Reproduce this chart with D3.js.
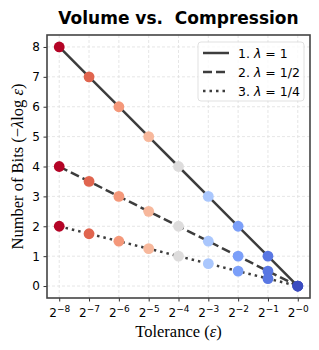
<!DOCTYPE html>
<html lang="en">
<head>
<meta charset="utf-8">
<title>Volume vs. Compression</title>
<script src="https://d3js.org/d3.v7.min.js"></script>
<style>
  body { margin: 0; background: #fff; }
  .tick text { font-family: "DejaVu Sans"; font-size: 12px; fill: #000; }
  .grid line { stroke: #e0e0e0; stroke-dasharray: 3,2; stroke-width: 0.8; }
</style>
</head>
<body>
<div id="chart"></div>
<script>
// data
const exponents = [-8, -7, -6, -5, -4, -3, -2, -1, 0];
const bitsL1 = [8, 7, 6, 5, 4, 3, 2, 1, 0];
const bitsL2 = [4, 3.5, 3, 2.5, 2, 1.5, 1, 0.5, 0];
const bitsL4 = [2, 1.75, 1.5, 1.25, 1, 0.75, 0.5, 0.25, 0];
const seriesNames = ["1. λ = 1", "2. λ = 1/2", "3. λ = 1/4"];
const yTicks = [0, 1, 2, 3, 4, 5, 6, 7, 8];

const width = 319, height = 350;
const marginLeft = 47, marginRight = 9, marginTop = 35, marginBottom = 52;

const svg = d3.select("#chart").append("svg")
  .attr("width", width).attr("height", height);

const x = d3.scaleLinear()
  .domain([-0.41, exponents.length - 1 + 0.41])
  .range([marginLeft, width - marginRight]);
const y = d3.scaleLinear()
  .domain([-0.4, 8.4])
  .range([height - marginBottom, marginTop]);

// coolwarm (reversed) from index
const coolwarm = d3.scaleLinear()
  .domain([0, 0.125, 0.25, 0.375, 0.5, 0.625, 0.75, 0.875, 1])
  .range(["#3b4cc0", "#5977e3", "#7b9ff9", "#aac7fd", "#dddcdc", "#f7b89c", "#f4987a", "#e0654f", "#b40426"]);
const color = i => coolwarm(1 - i / (exponents.length - 1));

// grid
svg.append("g").attr("class", "grid")
  .selectAll("line.v").data(exponents).enter().append("line")
  .attr("x1", (d, i) => x(i)).attr("x2", (d, i) => x(i))
  .attr("y1", marginTop).attr("y2", height - marginBottom);
svg.append("g").attr("class", "grid")
  .selectAll("line.h").data(yTicks).enter().append("line")
  .attr("y1", d => y(d)).attr("y2", d => y(d))
  .attr("x1", marginLeft).attr("x2", width - marginRight);

// axes
const yAxis = d3.axisLeft(y).tickValues(yTicks).tickSize(3.5).tickPadding(3.5);
const gy = svg.append("g").attr("transform", "translate(" + marginLeft + ",0)").call(yAxis);
gy.select(".domain").remove();
gy.selectAll(".tick line").attr("stroke", "#333");

const xAxis = d3.axisBottom(x).tickValues(d3.range(exponents.length)).tickSize(3.5).tickFormat("");
const gx = svg.append("g").attr("transform", "translate(0," + (height - marginBottom) + ")").call(xAxis);
gx.select(".domain").remove();
gx.selectAll(".tick line").attr("stroke", "#333");
gx.selectAll(".tick").append("text")
  .attr("y", 19).attr("text-anchor", "middle")
  .each(function(d) {
    const t = d3.select(this);
    t.append("tspan").text("2");
    t.append("tspan").attr("dy", -5.5).attr("font-size", 9)
      .text((exponents[d] === 0 ? "−0" : "−" + Math.abs(exponents[d])));
  });

// lines
const series = [bitsL1, bitsL2, bitsL4];
const dashes = [null, "9,4", "2.5,4"];
const line = d3.line().x((d, i) => x(i)).y(d => y(d));
series.forEach((s, k) => {
  svg.append("path").datum(s)
    .attr("d", line)
    .attr("fill", "none")
    .attr("stroke", "#3d3d3d")
    .attr("stroke-width", 2.5)
    .attr("stroke-dasharray", dashes[k]);
});
series.forEach(s => {
  svg.append("g").selectAll("circle").data(s).enter().append("circle")
    .attr("cx", (d, i) => x(i)).attr("cy", d => y(d))
    .attr("r", 5.4)
    .attr("fill", (d, i) => color(i));
});

// frame
svg.append("rect")
  .attr("x", marginLeft).attr("y", marginTop)
  .attr("width", width - marginLeft - marginRight)
  .attr("height", height - marginTop - marginBottom)
  .attr("fill", "none").attr("stroke", "#444").attr("stroke-width", 1.6);

// legend
const lg = svg.append("g").attr("transform", "translate(198,42)");
lg.append("rect").attr("width", 106).attr("height", 59).attr("rx", 3)
  .attr("fill", "#fff").attr("fill-opacity", 0.8)
  .attr("stroke", "#d9d9d9").attr("stroke-width", 0.8);
seriesNames.forEach((name, k) => {
  const yy = 11 + k * 19;
  lg.append("line").attr("x1", 5).attr("x2", 31).attr("y1", yy).attr("y2", yy)
    .attr("stroke", "#3d3d3d").attr("stroke-width", 2.5)
    .attr("stroke-dasharray", dashes[k]);
  const parts = name.split("λ");
  const t = lg.append("text").attr("x", 40).attr("y", yy + 4.5)
    .attr("font-family", "DejaVu Sans").attr("font-size", 12.5);
  t.append("tspan").text(parts[0]);
  t.append("tspan").attr("font-style", "italic").text("λ");
  t.append("tspan").text(parts[1]);
});

// title
svg.append("text")
  .attr("x", (marginLeft + width - marginRight) / 2).attr("y", 24)
  .attr("text-anchor", "middle")
  .attr("font-family", "DejaVu Sans").attr("font-weight", "bold").attr("font-size", 17)
  .style("white-space", "pre")
  .text("Volume vs.  Compression");

// axis labels
const xl = svg.append("text")
  .attr("x", (marginLeft + width - marginRight) / 2).attr("y", 337)
  .attr("text-anchor", "middle")
  .attr("font-family", "Liberation Serif").attr("font-size", 16.5);
xl.append("tspan").text("Tolerance (");
xl.append("tspan").attr("font-style", "italic").text("ε");
xl.append("tspan").text(")");

const yl = svg.append("text")
  .attr("transform", "translate(23," + ((marginTop + height - marginBottom) / 2) + ") rotate(-90)")
  .attr("text-anchor", "middle")
  .attr("font-family", "Liberation Serif").attr("font-size", 16.5);
yl.append("tspan").text("Number of Bits (−");
yl.append("tspan").attr("font-style", "italic").text("λ");
yl.append("tspan").text("log ");
yl.append("tspan").attr("font-style", "italic").text("ε");
yl.append("tspan").text(")");
</script>
</body>
</html>
